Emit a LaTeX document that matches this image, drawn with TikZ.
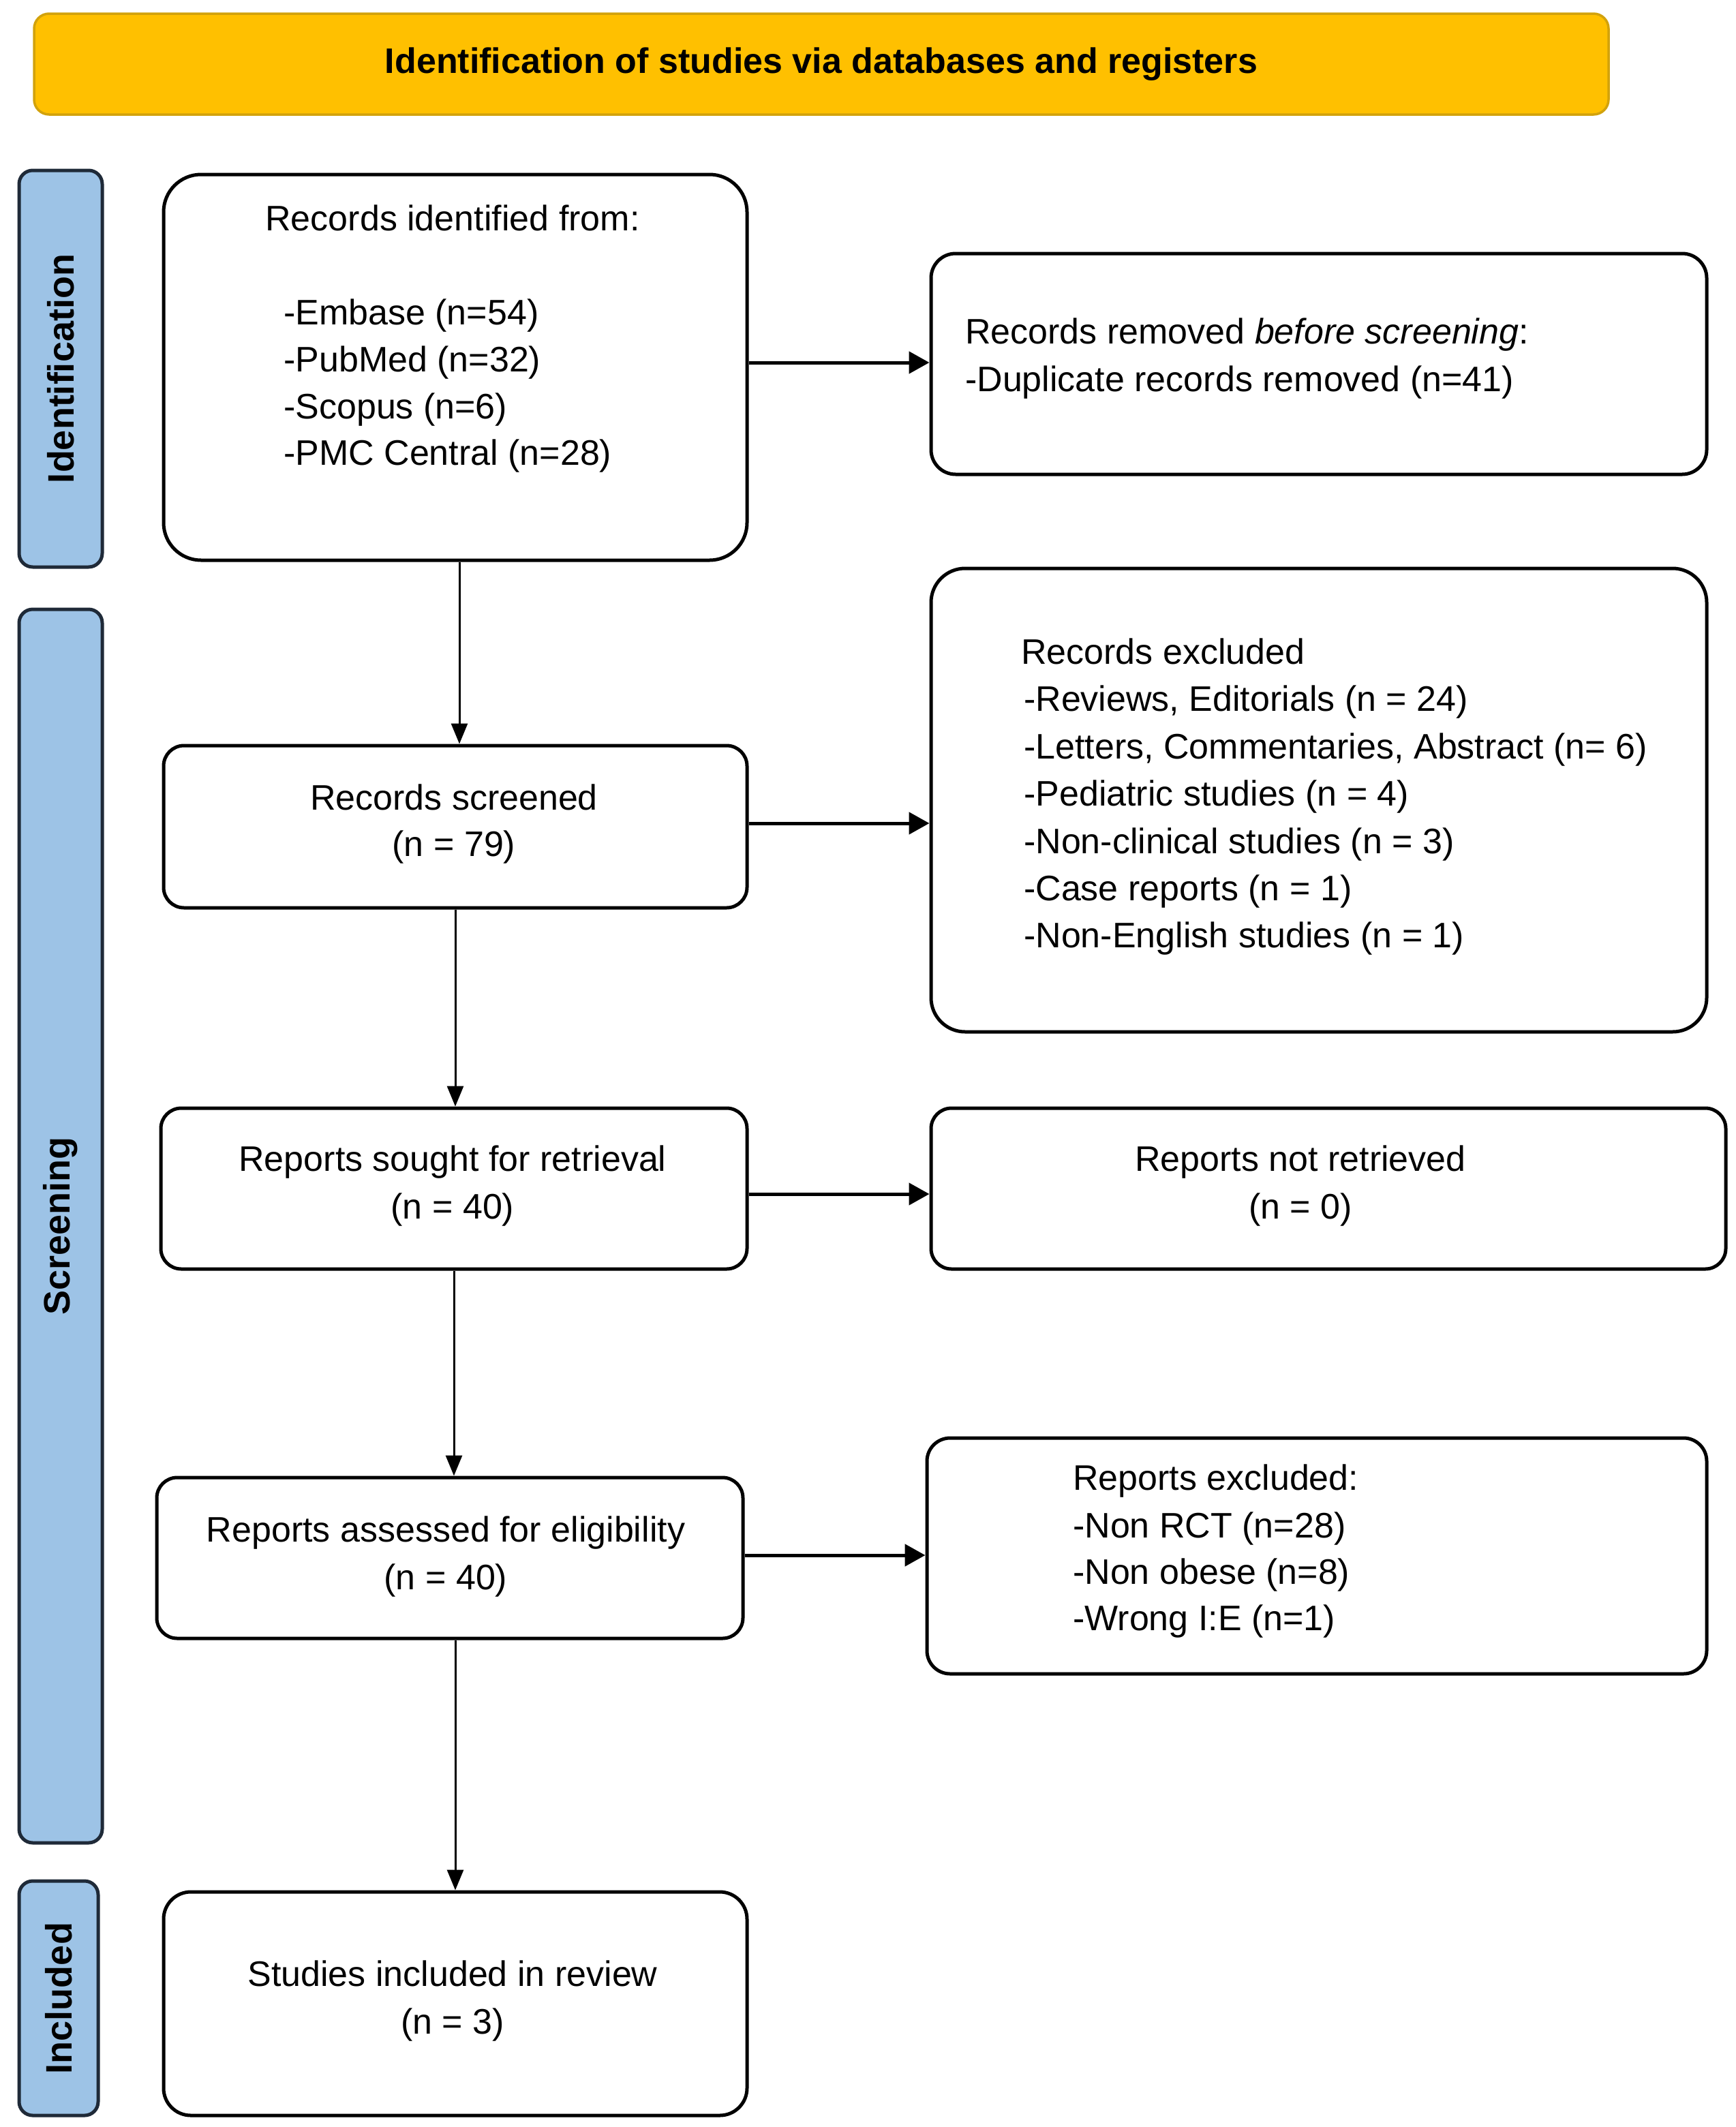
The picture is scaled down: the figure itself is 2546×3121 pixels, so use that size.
\documentclass[tikz,border=0pt]{standalone}
\usepackage{fontspec}
\setmainfont{Liberation Sans}
\usetikzlibrary{arrows.meta}
\definecolor{bannerfill}{HTML}{FFC000}
\definecolor{bannerline}{HTML}{D2A20C}
\definecolor{barfill}{HTML}{9DC3E6}
\definecolor{barline}{HTML}{1F2A38}
\begin{document}
\begin{tikzpicture}[x=1pt,y=-1pt,
  box/.style={draw=black, line width=5pt, fill=white, inner sep=0pt},
  bar/.style={draw=barline, line width=5pt, fill=barfill, rounded corners=20pt, inner sep=0pt,
     font=\bfseries\fontsize{54}{62}\selectfont, rotate=90},
  banner/.style={draw=bannerline, line width=3.5pt, fill=bannerfill, rounded corners=22pt, inner sep=0pt,
     font=\bfseries\fontsize{52}{62}\selectfont},
  txt/.style={font=\fontsize{52}{62}\selectfont, inner sep=0pt, yshift=-14pt},
  ltxt/.style={txt, anchor=base west},
  ctxt/.style={txt, anchor=base},
  varrow/.style={line width=3pt, -{Triangle[length=30pt,width=24pt]}},
  harrow/.style={line width=5pt, -{Triangle[length=30pt,width=32pt]}}]
\useasboundingbox (0,0) rectangle (2546,3121);
\fill[white] (0,0) rectangle (2546,3121);

% banner
\node[banner, minimum width=2310pt, minimum height=148pt] (banner) at (1205,94) {Identification of studies via databases and registers};

% side bars
\node[bar, minimum width=582pt, minimum height=122pt] (sid) at (89,541) {Identification};
\node[bar, minimum width=1810pt, minimum height=122pt] (sscr) at (89,1799) {Screening};
\node[bar, minimum width=344pt, minimum height=116pt] (sinc) at (86,2932) {Included};

% left column
\node[box, rounded corners=55pt, minimum width=856pt, minimum height=566pt] (b1) at (668,539) {};
\node[box, rounded corners=30pt, minimum width=856pt, minimum height=238pt] (b2) at (668,1213) {};
\node[box, rounded corners=30pt, minimum width=860pt, minimum height=236pt] (b3) at (666,1744) {};
\node[box, rounded corners=30pt, minimum width=860pt, minimum height=236pt] (b4) at (660,2286) {};
\node[box, rounded corners=40pt, minimum width=856pt, minimum height=328pt] (b5) at (668,2940) {};

% right column
\node[box, rounded corners=36pt, minimum width=1138pt, minimum height=324pt] (r1) at (1935,534) {};
\node[box, rounded corners=50pt, minimum width=1138pt, minimum height=680pt] (r2) at (1935,1174) {};
\node[box, rounded corners=30pt, minimum width=1166pt, minimum height=236pt] (r3) at (1949,1744) {};
\node[box, rounded corners=34pt, minimum width=1144pt, minimum height=346pt] (r4) at (1932,2283) {};

% texts B1
\node[ctxt] (t1) at (664,324) {Records identified from:};
\node[ltxt] (t1a) at (416,462) {-Embase (n=54)};
\node[ltxt] (t1b) at (416,531) {-PubMed (n=32)};
\node[ltxt] (t1c) at (416,600) {-Scopus (n=6)};
\node[ltxt] (t1d) at (416,668) {-PMC Central (n=28)};

% R1
\node[ltxt] (u1a) at (1416,490) {Records removed \textit{before screening}:};
\node[ltxt] (u1b) at (1416,560) {-Duplicate records removed (n=41)};

% R2
\node[ltxt] (u2a) at (1498,960) {Records excluded};
\node[ltxt] (u2b) at (1502,1029) {-Reviews, Editorials (n = 24)};
\node[ltxt] (u2c) at (1502,1099) {-Letters, Commentaries, Abstract (n= 6)};
\node[ltxt] (u2d) at (1502,1168) {-Pediatric studies (n = 4)};
\node[ltxt] (u2e) at (1502,1238) {-Non-clinical studies (n = 3)};
\node[ltxt] (u2f) at (1502,1307) {-Case reports (n = 1)};
\node[ltxt] (u2g) at (1502,1376) {-Non-English studies (n = 1)};

% centered box texts
\node[ctxt] (t2a) at (666,1174) {Records screened};
\node[ctxt] (t2b) at (666,1242) {(n = 79)};
\node[ctxt] (t3a) at (664,1704) {Reports sought for retrieval};
\node[ctxt] (t3b) at (664,1774) {(n = 40)};
\node[ctxt] (u3a) at (1908,1704) {Reports not retrieved};
\node[ctxt] (u3b) at (1908,1774) {(n = 0)};
\node[ctxt] (t4a) at (654,2248) {Reports assessed for eligibility};
\node[ctxt] (t4b) at (654,2318) {(n = 40)};
\node[ctxt] (t5a) at (664,2900) {Studies included in review};
\node[ctxt] (t5b) at (664,2970) {(n = 3)};

% R4
\node[ltxt] (u4a) at (1574,2172) {Reports excluded:};
\node[ltxt] (u4b) at (1574,2242) {-Non RCT (n=28)};
\node[ltxt] (u4c) at (1574,2310) {-Non obese (n=8)};
\node[ltxt] (u4d) at (1574,2378) {-Wrong I:E (n=1)};

% arrows
\draw[varrow] ([xshift=6pt]b1.south) -- ([xshift=6pt]b1.south |- b2.north);
\draw[varrow] (b2.south) -- (b2.south |- b3.north);
\draw[varrow] (b3.south) -- (b3.south |- b4.north);
\draw[varrow] (b5.north |- b4.south) -- (b5.north);
\draw[harrow] ([yshift=7pt]b1.east) -- ([yshift=7pt]b1.east -| r1.west);
\draw[harrow] ([yshift=5pt]b2.east) -- ([yshift=5pt]b2.east -| r2.west);
\draw[harrow] ([yshift=-8pt]b3.east) -- ([yshift=-8pt]b3.east -| r3.west);
\draw[harrow] ([yshift=4pt]b4.east) -- ([yshift=4pt]b4.east -| r4.west);
\end{tikzpicture}
\end{document}
